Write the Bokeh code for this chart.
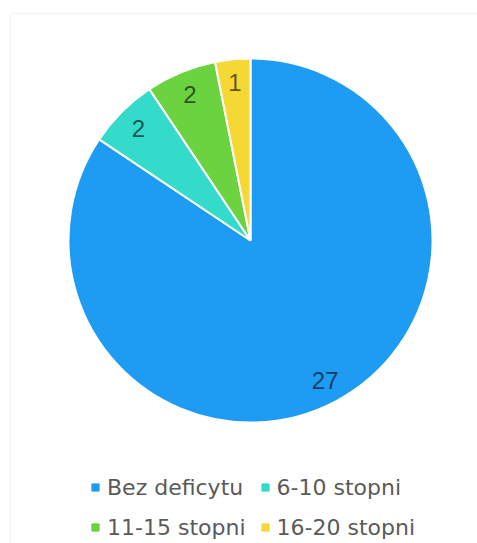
import math
from bokeh.plotting import figure
from bokeh.models import Range1d, ColumnDataSource, BoxAnnotation, Legend, LegendItem
from bokeh.core.properties import value
from bokeh.embed import file_html
from bokeh.resources import INLINE

categories = ["Bez deficytu", "6-10 stopni", "11-15 stopni", "16-20 stopni"]
counts = [27, 2, 2, 1]
colors = ["#1E9BF3", "#34DACA", "#6BD240", "#F6D835"]

W, H = 477, 543
CX, CY, R = 250, 303, 182

total = sum(counts)
starts, ends, lx, ly = [], [], [], []
acc = 0
for c in counts:
    a0 = math.pi / 2 - 2 * math.pi * acc / total
    a1 = math.pi / 2 - 2 * math.pi * (acc + c) / total
    starts.append(a0)
    ends.append(a1)
    mid = (a0 + a1) / 2
    lx.append(CX + 0.87 * R * math.cos(mid))
    ly.append(CY + 0.87 * R * math.sin(mid))
    acc += c

src = ColumnDataSource(dict(cat=categories, val=counts, start=starts, end=ends,
                            color=colors, lx=lx, ly=ly,
                            lab=[str(v) for v in counts]))

p = figure(width=W, height=H, output_backend="svg", toolbar_location=None,
           x_range=Range1d(0, W), y_range=Range1d(0, H),
           min_border=0, min_border_left=0, min_border_right=0,
           min_border_top=0, min_border_bottom=0)
p.axis.visible = False
p.grid.visible = False
p.outline_line_color = None
p.background_fill_color = "white"
p.border_fill_color = "white"

p.add_layout(BoxAnnotation(left=10, right=W + 50, top=H - 13, bottom=-50,
                           fill_color=None, fill_alpha=0,
                           line_color="#e6e6e6", line_width=2))

# legend swatches (zero-size points hidden under the pie)
swatches = []
for cat, col in zip(categories, colors):
    r = p.scatter(x=[CX], y=[CY], size=0, marker="square",
                  fill_color=col, line_color=col)
    swatches.append(r)

p.wedge(x=CX, y=CY, radius=R, start_angle="start", end_angle="end",
        direction="clock", fill_color="color", line_color="white",
        line_width=2, source=src)

p.text(x="lx", y="ly", text="lab", source=src, text_align="center",
       text_baseline="middle", text_font=value("Liberation Sans"),
       text_font_size="24px", text_color="#000000", text_alpha=0.62)

# column-major fill: order so that rows read Bez/6-10, 11-15/16-20
order = [0, 2, 1, 3]
items = [LegendItem(label=categories[i], renderers=[swatches[i]]) for i in order]

legend = Legend(items=items, ncols=2, location=(86, 1),
                glyph_width=18, glyph_height=18, label_standoff=3,
                label_height=30, spacing=10, padding=0, margin=0,
                border_line_color=None, background_fill_alpha=0,
                label_text_font="DejaVu Sans", label_text_font_size="22px",
                label_text_color="#5a5a5a")
p.add_layout(legend, "center")

open("out.html", "w").write(file_html(p, INLINE))
